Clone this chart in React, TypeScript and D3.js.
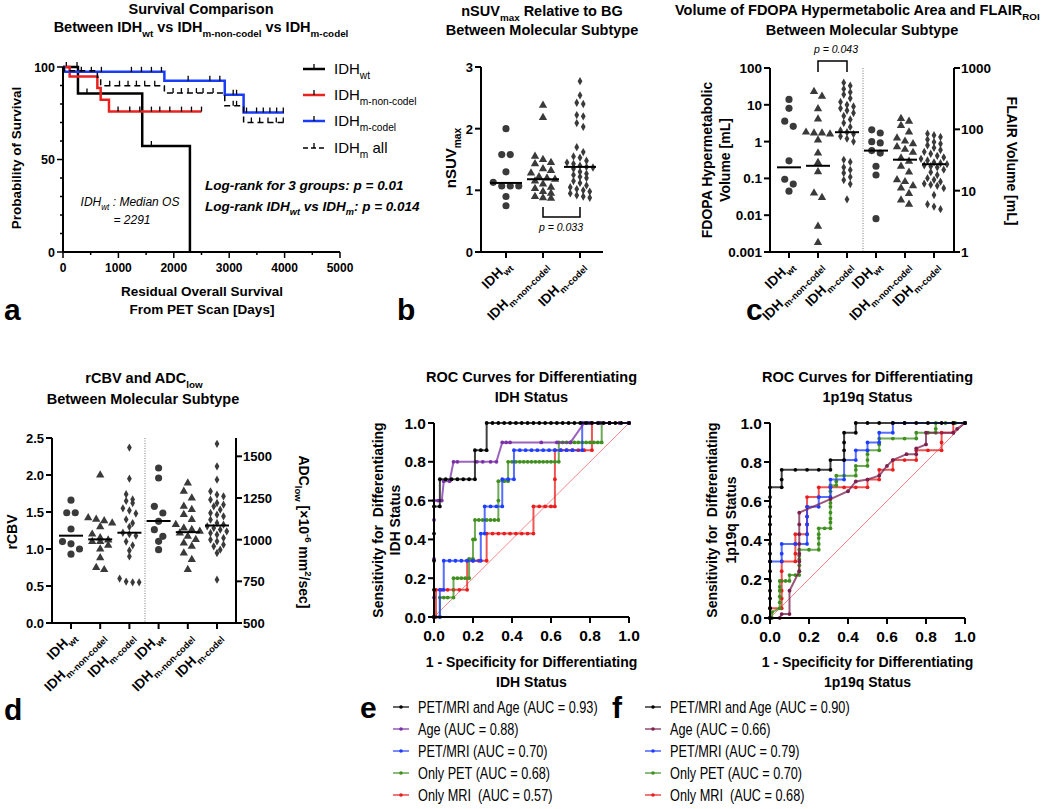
import React from "react";
import * as d3 from "d3";

const FONT = "'Liberation Sans', Arial, Helvetica, sans-serif";
const DOT = "#3a3a3a";

// ---------------- Panel a : survival ----------------
const survTicksX = [0, 1000, 2000, 3000, 4000, 5000];
const survTicksY = [0, 50, 100];
const survWt = [[0, 100], [270, 85.7], [1430, 57.3], [2291, 0]];
const survWtEnd = 2291;
const survWtCens = [[60, 100], [253, 100], [433, 85.7], [1595, 57.3]];
const survNon = [[0, 100], [120, 94.9], [620, 88.6], [680, 82.3], [830, 75.9]];
const survNonEnd = 2500;
const survNonCens = [[994, 75.9], [1205, 75.9], [1386, 75.9], [1596, 75.9], [1747, 75.9], [1928, 75.9], [2139, 75.9], [2319, 75.9], [2500, 75.9]];
const survCod = [[0, 100], [20, 97.4], [1830, 92.6], [2920, 85], [3260, 75.4]];
const survCodEnd = 3990;
const survCodCens = [[331, 97.4], [512, 97.4], [693, 97.4], [1235, 97.4], [1416, 97.4], [1596, 97.4], [1777, 97.4], [2259, 92.6], [2651, 92.6], [2831, 92.6], [3072, 85], [3133, 85], [3313, 75.4], [3494, 75.4], [3615, 75.4], [3735, 75.4], [3856, 75.4], [3976, 75.4]];
const survAll = [[0, 100], [20, 98], [620, 94.4], [680, 89.9], [1830, 85.9], [2920, 79], [3260, 70]];
const survAllEnd = 3990;
const survAllCens = [[843, 89.9], [1020, 89.9], [1174, 89.9], [1325, 89.9], [1475, 89.9], [1656, 89.9], [1987, 85.9], [2137, 85.9], [2258, 85.9], [2408, 85.9], [2528, 85.9], [2709, 85.9], [3072, 79], [3133, 79], [3400, 70], [3550, 70], [3700, 70], [3850, 70], [3976, 70]];
const survLegend = [
  { sub: "wt", tail: "" },
  { sub: "m-non-codel", tail: "" },
  { sub: "m-codel", tail: "" },
  { sub: "m", tail: " all" },
];

// ---------------- Panel b : nSUVmax ----------------
const subtypes = ["wt", "m-non-codel", "m-codel"];
const nsuvTicks = [0, 1, 2, 3];
const nsuvWt = [2.0, 1.58, 1.58, 1.3, 1.13, 1.07, 1.07, 1.07, 0.9, 0.75];
const nsuvNon = [2.38, 2.18, 1.55, 1.5, 1.45, 1.43, 1.35, 1.32, 1.28, 1.22, 1.2, 1.18, 1.15, 1.1, 1.05, 1.03, 0.98, 0.95, 0.9, 0.88, 0.87];
const nsuvCod = [2.77, 2.54, 2.42, 2.4, 2.22, 2.2, 2.09, 2.03, 1.7, 1.62, 1.55, 1.53, 1.48, 1.45, 1.43, 1.4, 1.38, 1.37, 1.35, 1.3, 1.27, 1.25, 1.22, 1.2, 1.15, 1.12, 1.08, 1.05, 1.02, 1.0, 0.98, 0.95, 0.92, 0.9, 0.88];
const nsuvMedians = [1.12, 1.18, 1.38];

// ---------------- Panel c : volumes (log) ----------------
const volCats = ["fdopa-wt", "fdopa-non", "fdopa-cod", "flair-wt", "flair-non", "flair-cod"];
const fdopaTicks = [0.001, 0.01, 0.1, 1, 10, 100];
const flairTicks = [1, 10, 100, 1000];
const fdopaWt = [14, 8, 3.6, 2.6, 0.3, 0.095, 0.07, 0.045];
const fdopaNon = [23, 17, 7.8, 4.1, 1.8, 1.7, 1.7, 1.6, 1.1, 0.49, 0.27, 0.15, 0.04, 0.03, 0.005, 0.0018];
const fdopaCod = [40, 33, 27, 22, 19, 15, 12, 10, 9, 8, 7, 6, 5, 4, 3.2, 2.5, 2, 1.8, 1.6, 1.4, 1.2, 1.0, 0.32, 0.28, 0.2, 0.17, 0.14, 0.11, 0.09, 0.07, 0.027];
const flairWt = [98, 87, 63, 60, 45, 41, 25, 18, 3.5];
const flairNon = [150, 135, 115, 90, 72, 64, 58, 52, 47, 42, 34, 30, 25, 20, 15, 14, 12, 11, 9, 7, 6];
const flairCod = [85, 80, 75, 68, 62, 58, 55, 50, 46, 43, 40, 37, 35, 33, 31, 29, 28, 27, 26, 25, 24, 22, 20, 18, 16, 15, 14, 13, 12.5, 12, 11, 8.5, 6, 5.5, 5];
const fdopaMedians = [0.2, 0.22, 1.8];
const flairMedians = [45, 32, 27];

// ---------------- Panel d : rCBV / ADC ----------------
const rcbvTicks = [0, 0.5, 1.0, 1.5, 2.0, 2.5];
const adcTicks = [500, 750, 1000, 1250, 1500];
const rcbvWt = [1.66, 1.49, 1.49, 1.27, 1.1, 1.07, 1.0, 0.93];
const rcbvNon = [2.0, 1.42, 1.4, 1.38, 1.35, 1.3, 1.2, 1.15, 1.12, 1.1, 1.1, 1.05, 1.0, 0.88, 0.75, 0.72];
const rcbvCod = [2.37, 1.95, 1.74, 1.67, 1.65, 1.62, 1.55, 1.52, 1.48, 1.4, 1.35, 1.3, 1.22, 1.2, 1.18, 1.1, 1.05, 0.98, 0.9, 0.6, 0.56, 0.55, 0.55];
const adcWt = [1430, 1370, 1200, 1160, 1110, 1060, 1020, 990, 940];
const adcNon = [1340, 1290, 1250, 1200, 1180, 1150, 1120, 1090, 1070, 1060, 1050, 1040, 1020, 1000, 980, 960, 920, 880, 820];
const adcCod = [1575, 1440, 1360, 1290, 1270, 1260, 1240, 1220, 1210, 1200, 1180, 1160, 1150, 1140, 1120, 1100, 1090, 1080, 1070, 1060, 1050, 1040, 1030, 1010, 1000, 990, 970, 960, 940, 920, 760];
const rcbvMedians = [1.18, 1.13, 1.22];
const adcMedians = [1112, 1045, 1085];

// ---------------- Panel e : ROC IDH ----------------
const rocTicks = [0, 0.2, 0.4, 0.6, 0.8, 1.0];
const rocE_combo = [[0,0],[0,0.14],[0,0.29],[0,0.43],[0,0.57],[0.03,0.57],[0.03,0.71],[0.06,0.71],[0.09,0.71],[0.12,0.71],[0.15,0.71],[0.18,0.71],[0.21,0.71],[0.21,0.86],[0.24,0.86],[0.27,0.86],[0.27,1],[0.3,1],[0.33,1],[0.36,1],[0.39,1],[0.42,1],[0.45,1],[0.48,1],[0.51,1],[0.54,1],[0.57,1],[0.6,1],[0.63,1],[0.66,1],[0.69,1],[0.72,1],[0.75,1],[0.78,1],[0.81,1],[0.84,1],[0.87,1],[0.9,1],[0.93,1],[0.96,1],[1,1]];
const rocE_age = [[0,0],[0,0.1],[0,0.3],[0,0.5],[0,0.6],[0.02,0.6],[0.04,0.6],[0.05,0.7],[0.08,0.7],[0.1,0.8],[0.12,0.8],[0.22,0.8],[0.25,0.8],[0.29,0.8],[0.32,0.8],[0.35,0.9],[0.37,0.9],[0.39,0.9],[0.55,0.9],[0.63,0.9],[0.7,0.9],[0.77,1],[0.8,1],[0.85,1],[0.9,1],[0.95,1],[1,1]];
const rocE_petmri = [[0,0],[0.03,0],[0.03,0.14],[0.05,0.14],[0.05,0.29],[0.08,0.29],[0.11,0.29],[0.14,0.29],[0.17,0.29],[0.2,0.29],[0.24,0.29],[0.24,0.43],[0.26,0.43],[0.26,0.57],[0.29,0.57],[0.32,0.57],[0.35,0.57],[0.35,0.71],[0.38,0.71],[0.41,0.71],[0.41,0.86],[0.44,0.86],[0.47,0.86],[0.5,0.86],[0.53,0.86],[0.56,0.86],[0.59,0.86],[0.62,0.86],[0.65,0.86],[0.68,0.86],[0.71,0.86],[0.76,0.86],[0.76,1],[0.79,1],[0.85,1],[0.9,1],[1,1]];
const rocE_pet = [[0,0],[0.03,0],[0.03,0.1],[0.05,0.1],[0.07,0.1],[0.1,0.1],[0.1,0.2],[0.12,0.2],[0.14,0.2],[0.16,0.2],[0.18,0.2],[0.18,0.3],[0.2,0.3],[0.2,0.4],[0.21,0.4],[0.21,0.5],[0.23,0.5],[0.25,0.5],[0.27,0.5],[0.29,0.5],[0.31,0.5],[0.33,0.5],[0.33,0.6],[0.33,0.7],[0.36,0.7],[0.38,0.7],[0.38,0.8],[0.4,0.8],[0.42,0.8],[0.44,0.8],[0.46,0.8],[0.48,0.8],[0.5,0.8],[0.52,0.8],[0.54,0.8],[0.56,0.8],[0.58,0.8],[0.6,0.8],[0.62,0.8],[0.64,0.8],[0.64,0.9],[0.66,0.9],[0.68,0.9],[0.7,0.9],[0.72,0.9],[0.74,0.9],[0.76,0.9],[0.78,0.9],[0.8,0.9],[0.82,0.9],[0.84,0.9],[0.86,0.9],[0.86,1],[0.9,1],[1,1]];
const rocE_mri = [[0,0],[0.01,0],[0.01,0.14],[0.04,0.14],[0.07,0.14],[0.1,0.14],[0.13,0.14],[0.17,0.14],[0.17,0.29],[0.2,0.29],[0.23,0.29],[0.27,0.29],[0.27,0.43],[0.3,0.43],[0.33,0.43],[0.36,0.43],[0.39,0.43],[0.42,0.43],[0.45,0.43],[0.48,0.43],[0.51,0.43],[0.51,0.57],[0.54,0.57],[0.57,0.57],[0.6,0.57],[0.62,0.57],[0.62,0.71],[0.62,0.86],[0.65,0.86],[0.68,0.86],[0.71,0.86],[0.74,0.86],[0.77,0.86],[0.81,0.86],[0.81,1],[0.85,1],[0.9,1],[1,1]];
const legendE = ["PET/MRI and Age (AUC = 0.93)", "Age (AUC = 0.88)", "PET/MRI (AUC = 0.70)", "Only PET (AUC = 0.68)", "Only MRI  (AUC = 0.57)"];

// ---------------- Panel f : ROC 1p19q ----------------
const rocF_combo = [[0,0],[0,0.05],[0,0.1],[0,0.14],[0,0.19],[0,0.24],[0,0.29],[0,0.33],[0,0.38],[0,0.43],[0,0.48],[0,0.52],[0,0.57],[0,0.62],[0,0.67],[0.06,0.67],[0.06,0.71],[0.06,0.76],[0.13,0.76],[0.19,0.76],[0.25,0.76],[0.31,0.76],[0.31,0.81],[0.38,0.81],[0.38,0.86],[0.38,0.9],[0.38,0.95],[0.44,0.95],[0.44,1],[0.5,1],[0.56,1],[0.63,1],[0.69,1],[0.75,1],[0.81,1],[0.88,1],[0.94,1],[1,1]];
const rocF_age = [[0,0],[0.05,0],[0.06,0.02],[0.1,0.02],[0.1,0.14],[0.15,0.24],[0.15,0.29],[0.15,0.33],[0.15,0.38],[0.15,0.43],[0.15,0.48],[0.15,0.54],[0.31,0.61],[0.4,0.65],[0.44,0.7],[0.5,0.71],[0.56,0.73],[0.6,0.78],[0.63,0.81],[0.7,0.84],[0.75,0.84],[0.75,0.87],[0.8,0.89],[0.8,0.95],[0.94,0.95],[0.96,0.97],[1,1]];
const rocF_petmri = [[0,0],[0,0.29],[0.06,0.29],[0.06,0.33],[0.06,0.38],[0.13,0.38],[0.19,0.38],[0.19,0.43],[0.19,0.48],[0.19,0.52],[0.19,0.57],[0.25,0.57],[0.25,0.62],[0.31,0.62],[0.31,0.67],[0.31,0.71],[0.38,0.71],[0.38,0.81],[0.44,0.81],[0.44,0.86],[0.5,0.86],[0.5,0.9],[0.56,0.9],[0.56,0.95],[0.63,0.95],[0.63,1],[0.69,1],[1,1]];
const rocF_pet = [[0,0],[0.01,0],[0.01,0.03],[0.05,0.05],[0.05,0.08],[0.05,0.11],[0.05,0.14],[0.05,0.16],[0.05,0.19],[0.08,0.19],[0.1,0.19],[0.1,0.22],[0.13,0.22],[0.15,0.22],[0.15,0.24],[0.15,0.27],[0.15,0.3],[0.15,0.32],[0.15,0.35],[0.2,0.35],[0.25,0.35],[0.25,0.38],[0.25,0.41],[0.25,0.43],[0.25,0.46],[0.28,0.46],[0.31,0.46],[0.31,0.49],[0.31,0.51],[0.31,0.54],[0.31,0.57],[0.31,0.59],[0.31,0.62],[0.31,0.65],[0.31,0.68],[0.34,0.68],[0.34,0.7],[0.34,0.73],[0.38,0.73],[0.44,0.73],[0.44,0.76],[0.44,0.78],[0.5,0.78],[0.5,0.81],[0.5,0.84],[0.5,0.86],[0.56,0.86],[0.56,0.89],[0.56,0.92],[0.63,0.92],[0.69,0.92],[0.75,0.92],[0.75,0.95],[0.81,0.95],[0.85,0.95],[0.85,0.97],[0.85,1],[0.9,1],[0.95,1],[1,1]];
const rocF_mri = [[0,0],[0,0.05],[0.06,0.05],[0.06,0.1],[0.06,0.14],[0.06,0.19],[0.06,0.24],[0.06,0.29],[0.13,0.29],[0.13,0.33],[0.13,0.38],[0.13,0.43],[0.19,0.43],[0.19,0.48],[0.19,0.52],[0.19,0.57],[0.19,0.62],[0.25,0.62],[0.25,0.67],[0.31,0.67],[0.38,0.67],[0.44,0.67],[0.5,0.67],[0.5,0.71],[0.56,0.71],[0.56,0.76],[0.63,0.76],[0.63,0.81],[0.69,0.81],[0.75,0.81],[0.75,0.86],[0.81,0.86],[0.88,0.86],[0.88,0.9],[0.88,0.95],[0.94,0.95],[0.94,1],[1,1]];
const legendF = ["PET/MRI and Age (AUC = 0.90)", "Age (AUC = 0.66)", "PET/MRI (AUC = 0.79)", "Only PET (AUC = 0.70)", "Only MRI  (AUC = 0.68)"];

const rocColorsE = ["#000000", "#7b2fa8", "#1f3dff", "#3f8f1f", "#e81e1e"];
const rocColorsF = ["#000000", "#7a1f4e", "#1f3dff", "#3f8f1f", "#e81e1e"];

// ---------------- helpers ----------------
type Seg = { t: string; sub?: boolean; sup?: boolean };
function rich(segs: Seg[], fs: number, subScale = 0.68) {
  let cur = 0;
  return segs.map((s, i) => {
    const target = s.sub ? fs * 0.32 : s.sup ? -fs * 0.42 : 0;
    const dy = target - cur;
    cur = target;
    return (
      <tspan key={i} dy={dy} fontSize={s.sub || s.sup ? fs * subScale : fs}>
        {s.t}
      </tspan>
    );
  });
}

function swarm(vals: number[], y: (v: number) => number, cx: number, dx: number, dy: number) {
  const pts = vals.map((v) => y(v)).sort((a, b) => a - b);
  const out: { x: number; y: number }[] = [];
  let i = 0;
  while (i < pts.length) {
    const start = pts[i];
    const row: number[] = [];
    while (i < pts.length && pts[i] - start < dy) {
      row.push(pts[i]);
      i++;
    }
    row.forEach((py, k) => out.push({ x: cx + (k - (row.length - 1) / 2) * dx, y: py }));
  }
  return out;
}

const symPaths: Record<string, string> = {
  wt: d3.symbol(d3.symbolCircle, 40)() as string,
  non: d3.symbol(d3.symbolTriangle, 30)() as string,
  cod: d3.symbol(d3.symbolDiamond, 20)() as string,
};
const symSpacing: Record<string, [number, number]> = {
  wt: [8.5, 7.5],
  non: [8, 7],
  cod: [6.5, 5.5],
};

const Group = ({ vals, y, cx, kind, med, hw }: any) => {
  const [dx, dy] = symSpacing[kind];
  const pts = swarm(vals, y, cx, dx, dy);
  return (
    <g>
      {pts.map((p, i) => (
        <path key={i} d={symPaths[kind]} transform={`translate(${p.x},${p.y})`} fill={DOT} />
      ))}
      <line x1={cx - hw} x2={cx + hw} y1={y(med)} y2={y(med)} stroke="#000" strokeWidth={2} />
    </g>
  );
};

const CatLabel = ({ x, y, sub, fs = 13.5 }: any) => (
  <text transform={`translate(${x},${y}) rotate(-45)`} textAnchor="end" fontFamily={FONT} fontWeight="bold" fontSize={fs}>
    {rich([{ t: "IDH" }, { t: sub, sub: true }], fs)}
  </text>
);

const Letter = ({ x, y, t }: any) => (
  <text x={x} y={y} fontFamily={FONT} fontWeight="bold" fontSize={30}>
    {t}
  </text>
);

// ---------------- Panel a ----------------
const PanelA = () => {
  const x = d3.scaleLinear().domain([0, 5000]).range([63, 340]);
  const y = d3.scaleLinear().domain([0, 100]).range([252, 67]);
  const series = [
    { pts: survWt, end: survWtEnd, cens: survWtCens, color: "#000", w: 2.5, dash: undefined },
    { pts: survNon, end: survNonEnd, cens: survNonCens, color: "#e8231f", w: 2.5, dash: undefined },
    { pts: survCod, end: survCodEnd, cens: survCodCens, color: "#1a3cf5", w: 2.5, dash: undefined },
    { pts: survAll, end: survAllEnd, cens: survAllCens, color: "#000", w: 1.5, dash: "6,4" },
  ];
  const line = d3.line<number[]>().x((d) => x(d[0])).y((d) => y(d[1])).curve(d3.curveStepAfter);
  const minorY = d3.range(0, 101, 10);
  const minorX = d3.range(500, 5000, 1000);
  return (
    <g fontFamily={FONT}>
      <text x={201} y={14} textAnchor="middle" fontWeight="bold" fontSize={14.5}>Survival Comparison</text>
      <text x={201} y={32} textAnchor="middle" fontWeight="bold" fontSize={14.5}>
        {rich([{ t: "Between IDH" }, { t: "wt", sub: true }, { t: " vs IDH" }, { t: "m-non-codel", sub: true }, { t: " vs IDH" }, { t: "m-codel", sub: true }], 14.5)}
      </text>
      {series.map((s, i) => {
        const last = s.pts[s.pts.length - 1];
        const pts = last[0] === s.end ? s.pts : [...s.pts, [s.end, last[1]]];
        return (
          <g key={i}>
            <path d={line(pts) as string} fill="none" stroke={s.color} strokeWidth={s.w} strokeDasharray={s.dash} />
            {s.cens.map((c, j) => (
              <line key={j} x1={x(c[0])} x2={x(c[0])} y1={y(c[1]) - 5} y2={y(c[1])} stroke="#000" strokeWidth={1.3} />
            ))}
          </g>
        );
      })}
      <line x1={63} x2={63} y1={67} y2={252} stroke="#000" strokeWidth={2} />
      <line x1={63} x2={340} y1={252} y2={252} stroke="#000" strokeWidth={2} />
      {minorY.map((t) => (
        <line key={t} x1={63 - (t % 50 === 0 ? 6 : 3)} x2={63} y1={y(t)} y2={y(t)} stroke="#000" strokeWidth={1.5} />
      ))}
      {survTicksY.map((t) => (
        <text key={t} x={55} y={y(t) + 4.5} textAnchor="end" fontWeight="bold" fontSize={12.5}>{t}</text>
      ))}
      {survTicksX.map((t) => (
        <g key={t}>
          <line x1={x(t)} x2={x(t)} y1={252} y2={258} stroke="#000" strokeWidth={1.5} />
          <text x={x(t)} y={272} textAnchor="middle" fontWeight="bold" fontSize={12}>{t}</text>
        </g>
      ))}
      {minorX.map((t) => (
        <line key={t} x1={x(t)} x2={x(t)} y1={252} y2={255} stroke="#000" strokeWidth={1.5} />
      ))}
      <text transform="translate(21,158) rotate(-90)" textAnchor="middle" fontWeight="bold" fontSize={13.5}>Probability of Survival</text>
      <text x={202} y={296} textAnchor="middle" fontWeight="bold" fontSize={13.5}>Residual Overall Survival</text>
      <text x={202} y={314} textAnchor="middle" fontWeight="bold" fontSize={13.5}>From PET Scan [Days]</text>
      <text x={130} y={206} textAnchor="middle" fontStyle="italic" fontSize={12}>
        {rich([{ t: "IDH" }, { t: "wt", sub: true }, { t: " : Median OS" }], 12)}
      </text>
      <text x={132} y={224} textAnchor="middle" fontStyle="italic" fontSize={12}>= 2291</text>
      <text x={205} y={190} fontStyle="italic" fontWeight="bold" fontSize={13.5}>Log-rank for 3 groups: p = 0.01</text>
      <text x={205} y={211} fontStyle="italic" fontWeight="bold" fontSize={13.5}>
        {rich([{ t: "Log-rank IDH" }, { t: "wt", sub: true }, { t: " vs IDH" }, { t: "m", sub: true }, { t: ": p = 0.014" }], 13.5)}
      </text>
      {survLegend.map((l, i) => {
        const s = series[i];
        const ly = [69, 95, 121, 148][i];
        return (
          <g key={i}>
            <line x1={303} x2={325} y1={ly} y2={ly} stroke={s.color} strokeWidth={s.w} strokeDasharray={s.dash ? "5,3" : undefined} />
            <line x1={314} x2={314} y1={ly - 5} y2={ly} stroke="#000" strokeWidth={1.3} />
            <text x={334} y={ly + 5} fontSize={15}>
              {rich([{ t: "IDH" }, { t: l.sub, sub: true }, { t: l.tail }], 15)}
            </text>
          </g>
        );
      })}
    </g>
  );
};

// ---------------- Panel b ----------------
const PanelB = () => {
  const x = d3.scalePoint<string>().domain(subtypes).range([506, 580]);
  const y = d3.scaleLinear().domain([0, 3]).range([252, 67]);
  const groups = [nsuvWt, nsuvNon, nsuvCod];
  const kinds = ["wt", "non", "cod"];
  return (
    <g fontFamily={FONT}>
      <text x={542} y={16} textAnchor="middle" fontWeight="bold" fontSize={14.5}>
        {rich([{ t: "nSUV" }, { t: "max", sub: true }, { t: " Relative to BG" }], 14.5)}
      </text>
      <text x={542} y={35} textAnchor="middle" fontWeight="bold" fontSize={14.5}>Between Molecular Subtype</text>
      {groups.map((g, i) => (
        <Group key={i} vals={g} y={y} cx={x(subtypes[i])} kind={kinds[i]} med={nsuvMedians[i]} hw={16} />
      ))}
      <line x1={481} x2={481} y1={67} y2={252} stroke="#000" strokeWidth={2} />
      <line x1={481} x2={603} y1={252} y2={252} stroke="#000" strokeWidth={2} />
      {nsuvTicks.map((t) => (
        <g key={t}>
          <line x1={475} x2={481} y1={y(t)} y2={y(t)} stroke="#000" strokeWidth={2} />
          <text x={473} y={y(t) + 5} textAnchor="end" fontWeight="bold" fontSize={13}>{t}</text>
        </g>
      ))}
      {subtypes.map((s) => (
        <g key={s}>
          <line x1={x(s)} x2={x(s)} y1={252} y2={258} stroke="#000" strokeWidth={2} />
          <CatLabel x={(x(s) as number) + 5} y={266} sub={s} />
        </g>
      ))}
      <text transform="translate(456,158) rotate(-90)" textAnchor="middle" fontWeight="bold" fontSize={15}>
        {rich([{ t: "nSUV" }, { t: "max", sub: true }], 15)}
      </text>
      <path d={`M${x("m-non-codel")},207V217H${x("m-codel")}V207`} fill="none" stroke="#000" strokeWidth={1.5} />
      <text x={561} y={231} textAnchor="middle" fontStyle="italic" fontSize={10.5}>p = 0.033</text>
    </g>
  );
};

// ---------------- Panel c ----------------
const PanelC = () => {
  const x = d3.scalePoint<string>().domain(volCats).range([789, 934]);
  const yL = d3.scaleLog().domain([0.001, 100]).range([252, 68]);
  const yR = d3.scaleLog().domain([1, 1000]).range([252, 68]);
  const groupsL = [fdopaWt, fdopaNon, fdopaCod];
  const groupsR = [flairWt, flairNon, flairCod];
  const kinds = ["wt", "non", "cod"];
  const subs = [...subtypes, ...subtypes];
  return (
    <g fontFamily={FONT}>
      <text x={675} y={15} fontWeight="bold" fontSize={14.5}>
        {rich([{ t: "Volume of FDOPA Hypermetabolic Area and FLAIR" }, { t: "ROI", sub: true }], 14.5)}
      </text>
      <text x={862} y={35} textAnchor="middle" fontWeight="bold" fontSize={14.5}>Between Molecular Subtype</text>
      {groupsL.map((g, i) => (
        <Group key={"l" + i} vals={g} y={yL} cx={x(volCats[i])} kind={kinds[i]} med={fdopaMedians[i]} hw={12} />
      ))}
      {groupsR.map((g, i) => (
        <Group key={"r" + i} vals={g} y={yR} cx={x(volCats[i + 3])} kind={kinds[i]} med={flairMedians[i]} hw={12} />
      ))}
      <line x1={863} x2={863} y1={68} y2={252} stroke="#777" strokeWidth={1} strokeDasharray="1,1.5" />
      <line x1={770} x2={770} y1={68} y2={252} stroke="#000" strokeWidth={2} />
      <line x1={954} x2={954} y1={68} y2={252} stroke="#000" strokeWidth={2} />
      <line x1={770} x2={954} y1={252} y2={252} stroke="#000" strokeWidth={2} />
      {fdopaTicks.map((t) => (
        <g key={t}>
          <line x1={764} x2={770} y1={yL(t)} y2={yL(t)} stroke="#000" strokeWidth={2} />
          <text x={762} y={yL(t) + 5} textAnchor="end" fontWeight="bold" fontSize={13.5}>{String(t)}</text>
        </g>
      ))}
      {flairTicks.map((t) => (
        <g key={t}>
          <line x1={954} x2={960} y1={yR(t)} y2={yR(t)} stroke="#000" strokeWidth={2} />
          <text x={961} y={yR(t) + 5} fontWeight="bold" fontSize={13.5}>{String(t)}</text>
        </g>
      ))}
      {volCats.map((c, i) => (
        <g key={c}>
          <line x1={x(c)} x2={x(c)} y1={252} y2={258} stroke="#000" strokeWidth={2} />
          <CatLabel x={(x(c) as number) + 5} y={266} sub={subs[i]} />
        </g>
      ))}
      <text transform="translate(712,160) rotate(-90)" textAnchor="middle" fontWeight="bold" fontSize={14}>FDOPA Hypermetabolic</text>
      <text transform="translate(730,160) rotate(-90)" textAnchor="middle" fontWeight="bold" fontSize={14}>Volume [mL]</text>
      <text transform="translate(1007,161) rotate(90)" textAnchor="middle" fontWeight="bold" fontSize={14}>FLAIR Volume [mL]</text>
      <path d={`M${x("fdopa-non")},72V61H${x("fdopa-cod")}V72`} fill="none" stroke="#000" strokeWidth={1.5} />
      <text x={836} y={53} textAnchor="middle" fontStyle="italic" fontSize={10.5}>p = 0.043</text>
    </g>
  );
};

// ---------------- Panel d ----------------
const PanelD = () => {
  const cats = volCats;
  const x = d3.scalePoint<string>().domain(cats).range([71, 217]);
  const yL = d3.scaleLinear().domain([0, 2.5]).range([623, 438]);
  const yR = d3.scaleLinear().domain([500, 1610]).range([623, 438]);
  const groupsL = [rcbvWt, rcbvNon, rcbvCod];
  const groupsR = [adcWt, adcNon, adcCod];
  const kinds = ["wt", "non", "cod"];
  const subs = [...subtypes, ...subtypes];
  return (
    <g fontFamily={FONT}>
      <text x={144} y={383} textAnchor="middle" fontWeight="bold" fontSize={14.5}>
        {rich([{ t: "rCBV and ADC" }, { t: "low", sub: true }], 14.5)}
      </text>
      <text x={143} y={404} textAnchor="middle" fontWeight="bold" fontSize={14.5}>Between Molecular Subtype</text>
      {groupsL.map((g, i) => (
        <Group key={"l" + i} vals={g} y={yL} cx={x(cats[i])} kind={kinds[i]} med={rcbvMedians[i]} hw={12} />
      ))}
      {groupsR.map((g, i) => (
        <Group key={"r" + i} vals={g} y={yR} cx={x(cats[i + 3])} kind={kinds[i]} med={adcMedians[i]} hw={12} />
      ))}
      <line x1={145} x2={145} y1={438} y2={623} stroke="#777" strokeWidth={1} strokeDasharray="1,1.5" />
      <line x1={52} x2={52} y1={438} y2={623} stroke="#000" strokeWidth={2} />
      <line x1={236} x2={236} y1={438} y2={623} stroke="#000" strokeWidth={2} />
      <line x1={52} x2={236} y1={623} y2={623} stroke="#000" strokeWidth={2} />
      {rcbvTicks.map((t) => (
        <g key={t}>
          <line x1={46} x2={52} y1={yL(t)} y2={yL(t)} stroke="#000" strokeWidth={2} />
          <text x={44} y={yL(t) + 5} textAnchor="end" fontWeight="bold" fontSize={13}>{t.toFixed(1)}</text>
        </g>
      ))}
      {adcTicks.map((t) => (
        <g key={t}>
          <line x1={236} x2={242} y1={yR(t)} y2={yR(t)} stroke="#000" strokeWidth={2} />
          <text x={243} y={yR(t) + 5} fontWeight="bold" fontSize={13}>{t}</text>
        </g>
      ))}
      {cats.map((c, i) => (
        <g key={c}>
          <line x1={x(c)} x2={x(c)} y1={623} y2={629} stroke="#000" strokeWidth={2} />
          <CatLabel x={(x(c) as number) + 5} y={637} sub={subs[i]} />
        </g>
      ))}
      <text transform="translate(17,532) rotate(-90)" textAnchor="middle" fontWeight="bold" fontSize={14}>rCBV</text>
      <text transform="translate(299,532) rotate(90)" textAnchor="middle" fontWeight="bold" fontSize={14}>
        {rich([{ t: "ADC" }, { t: "low", sub: true }, { t: " [×10" }, { t: "-6", sup: true }, { t: " mm" }, { t: "2", sup: true }, { t: "/sec]" }], 14)}
      </text>
    </g>
  );
};

// ---------------- ROC panels ----------------
const RocPanel = ({ xr, yr, curves, colors, title2, ytitle2, ytx, legend, legendX, letter, letterX }: any) => {
  const x = d3.scaleLinear().domain([0, 1]).range(xr);
  const y = d3.scaleLinear().domain([0, 1]).range(yr);
  const line = d3.line<number[]>().x((d) => x(d[0])).y((d) => y(d[1]));
  const cx = (xr[0] + xr[1]) / 2;
  const order = [4, 3, 2, 1, 0];
  const rows = [707, 729, 751, 773, 795];
  return (
    <g fontFamily={FONT}>
      <text x={cx} y={382} textAnchor="middle" fontWeight="bold" fontSize={14.5}>ROC Curves for Differentiating</text>
      <text x={cx} y={402} textAnchor="middle" fontWeight="bold" fontSize={14.5}>{title2}</text>
      <line x1={x(0)} y1={y(0)} x2={x(1)} y2={y(1)} stroke="#f07a7a" strokeWidth={0.9} />
      {order.map((k) => (
        <g key={k}>
          <path d={line(curves[k]) as string} fill="none" stroke={colors[k]} strokeWidth={2} strokeOpacity={0.75} />
          {curves[k].map((p: number[], j: number) => (
            <circle key={j} cx={x(p[0])} cy={y(p[1])} r={1.9} fill={colors[k]} />
          ))}
        </g>
      ))}
      <line x1={xr[0]} x2={xr[0]} y1={yr[1]} y2={yr[0]} stroke="#000" strokeWidth={2} />
      <line x1={xr[0]} x2={xr[1]} y1={yr[0]} y2={yr[0]} stroke="#000" strokeWidth={2} />
      {rocTicks.map((t) => (
        <g key={t}>
          <line x1={xr[0] - 6} x2={xr[0]} y1={y(t)} y2={y(t)} stroke="#000" strokeWidth={2} />
          <text x={xr[0] - 8} y={y(t) + 5.5} textAnchor="end" fontWeight="bold" fontSize={15.5}>{t.toFixed(1)}</text>
          <line x1={x(t)} x2={x(t)} y1={yr[0]} y2={yr[0] + 6} stroke="#000" strokeWidth={2} />
          <text x={x(t)} y={yr[0] + 24} textAnchor="middle" fontWeight="bold" fontSize={15.5}>{t.toFixed(1)}</text>
        </g>
      ))}
      <text transform={`translate(${ytx[0]},520) rotate(-90)`} textAnchor="middle" fontWeight="bold" fontSize={14} style={{ whiteSpace: "pre" }}>Sensitivity for  Differentiating</text>
      <text transform={`translate(${ytx[1]},520) rotate(-90)`} textAnchor="middle" fontWeight="bold" fontSize={14}>{ytitle2}</text>
      <text x={cx} y={667} textAnchor="middle" fontWeight="bold" fontSize={14}>1 - Specificity for Differentiating</text>
      <text x={cx} y={687} textAnchor="middle" fontWeight="bold" fontSize={14}>{title2}</text>
      <Letter x={letterX} y={718} t={letter} />
      {legend.map((l: string, i: number) => (
        <g key={i}>
          <line x1={legendX} x2={legendX + 16} y1={rows[i]} y2={rows[i]} stroke={colors[i]} strokeWidth={1.5} strokeOpacity={0.8} />
          <circle cx={legendX + 8} cy={rows[i]} r={1.8} fill={colors[i]} />
          <text transform={`translate(${legendX + 25},${rows[i] + 5.5}) scale(0.77,1)`} fontFamily={FONT} fontSize={16.5} style={{ whiteSpace: "pre" }}>{l}</text>
        </g>
      ))}
    </g>
  );
};

export default function App() {
  return (
    <svg width={1050} height={809} viewBox="0 0 1050 809" style={{ position: "absolute", left: 0, top: 0, background: "#fff" }}>
      <rect width={1050} height={809} fill="#fff" />
      <PanelA />
      <PanelB />
      <PanelC />
      <PanelD />
      <RocPanel
        xr={[434, 629]} yr={[617, 423]}
        curves={[rocE_combo, rocE_age, rocE_petmri, rocE_pet, rocE_mri]}
        colors={rocColorsE} title2="IDH Status" ytitle2="IDH Status" ytx={[383, 400]}
        legend={legendE} legendX={393} letter="e" letterX={360}
      />
      <RocPanel
        xr={[770, 965]} yr={[618, 423]}
        curves={[rocF_combo, rocF_age, rocF_petmri, rocF_pet, rocF_mri]}
        colors={rocColorsF} title2="1p19q Status" ytitle2="1p19q Status" ytx={[717, 736]}
        legend={legendF} legendX={645} letter="f" letterX={612}
      />
      <Letter x={4} y={320} t="a" />
      <Letter x={397} y={320} t="b" />
      <Letter x={746} y={320} t="c" />
      <Letter x={4} y={720} t="d" />
    </svg>
  );
}
